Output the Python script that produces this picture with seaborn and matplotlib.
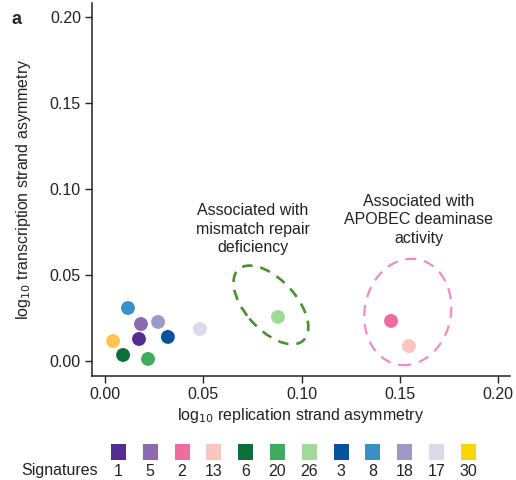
import matplotlib
matplotlib.use("Agg")
import matplotlib.pyplot as plt
import seaborn as sns
import pandas as pd
from matplotlib.patches import Ellipse

# signature values
signatures = ['1', '5', '2', '13', '6', '20', '26', '3', '8', '18', '17', '30']
replication = [0.0173, 0.0183, 0.1455, 0.1546, 0.0092, 0.0219, 0.0880, 0.0320, 0.0117, 0.0270, 0.0483, 0.0041]
transcription = [0.0128, 0.0215, 0.0233, 0.0087, 0.0035, 0.0012, 0.0256, 0.0140, 0.0308, 0.0227, 0.0186, 0.0116]
colors = ['#542d8f', '#8c6bb1', '#f06ba0', '#fbc5c0', '#0e6e3a', '#41ab5d', '#a1d99b',
          '#08519c', '#3a91c8', '#9e9ac8', '#dadaeb', '#ffc44e']
legend_colors = colors[:-1] + ['#f9d800']

ticks = [0.00, 0.05, 0.10, 0.15, 0.20]

df = pd.DataFrame({'sig': signatures, 'rep': replication, 'tx': transcription})

sns.set_style("white")
plt.rcParams['font.family'] = ['Liberation Sans', 'DejaVu Sans']
FS = 11.5
TXT = '#222222'

fig = plt.figure(figsize=(5.16, 4.8), dpi=100)
ax = fig.add_axes([92 / 516, 1 - 376 / 480, (510 - 92) / 516, (376 - 3) / 480])

sns.scatterplot(data=df, x='rep', y='tx', hue='sig', palette=dict(zip(signatures, colors)),
                s=100, linewidth=0, legend=False, ax=ax, zorder=3)

# dashed ellipses round the two groups
ax.add_patch(Ellipse((0.0844, 0.0326), 0.053, 0.027, angle=-54, fill=False,
                     edgecolor='#4a8f32', lw=1.9, linestyle=(0, (4, 3))))
ax.add_patch(Ellipse((0.1540, 0.0285), 0.044, 0.062, angle=-7, fill=False,
                     edgecolor='#f08cc0', lw=1.6, linestyle=(0, (5, 3.5))))

ax.text(0.0753, 0.0767, "Associated with\nmismatch repair\ndeficiency", ha='center', va='center',
        fontsize=FS, linespacing=1.32, color=TXT)
ax.text(0.1597, 0.0820, "Associated with\nAPOBEC deaminase\nactivity", ha='center', va='center',
        fontsize=FS, linespacing=1.32, color=TXT)

ax.set_xlim(-0.0066, 0.206)
ax.set_ylim(-0.0087, 0.208)
ax.set_xticks(ticks)
ax.set_yticks(ticks)
ax.set_xticklabels([f"{t:.2f}" for t in ticks])
ax.set_yticklabels([f"{t:.2f}" for t in ticks])
ax.tick_params(axis='both', direction='out', length=5, width=1, color=TXT,
               labelsize=FS, labelcolor=TXT, pad=3)
ax.tick_params(axis='both', which='both', bottom=True, left=True)
sns.despine(ax=ax)
for sp in ['left', 'bottom']:
    ax.spines[sp].set_linewidth(1.1)
    ax.spines[sp].set_color(TXT)
ax.set_xlabel("log$_{10}$ replication strand asymmetry", fontsize=FS, color=TXT, labelpad=3)
ax.set_ylabel("log$_{10}$ transcription strand asymmetry", fontsize=FS, color=TXT, labelpad=12)

fig.text(11 / 516, 1 - 24 / 480, "a", fontsize=13, fontweight='bold', va='baseline', ha='left')

# signature colour key
lax = fig.add_axes([102.6 / 516, 0, 381.6 / 516, 40 / 480])
key = pd.DataFrame({'pos': range(len(signatures)), 'y': [0.7] * len(signatures), 'sig': signatures})
sns.scatterplot(data=key, x='pos', y='y', hue='sig', palette=dict(zip(signatures, legend_colors)),
                marker='s', s=118, linewidth=0, legend=False, ax=lax)
for i, s in enumerate(signatures):
    lax.text(i, 0.225, s, ha='center', va='center', fontsize=FS, color=TXT)
lax.set_xlim(-0.5, len(signatures) - 0.5)
lax.set_ylim(0, 1)
lax.axis('off')
fig.text(98 / 516, 1 - 471 / 480, "Signatures", ha='right', va='center', fontsize=FS, color=TXT)

fig.savefig("out.png", dpi=100)
